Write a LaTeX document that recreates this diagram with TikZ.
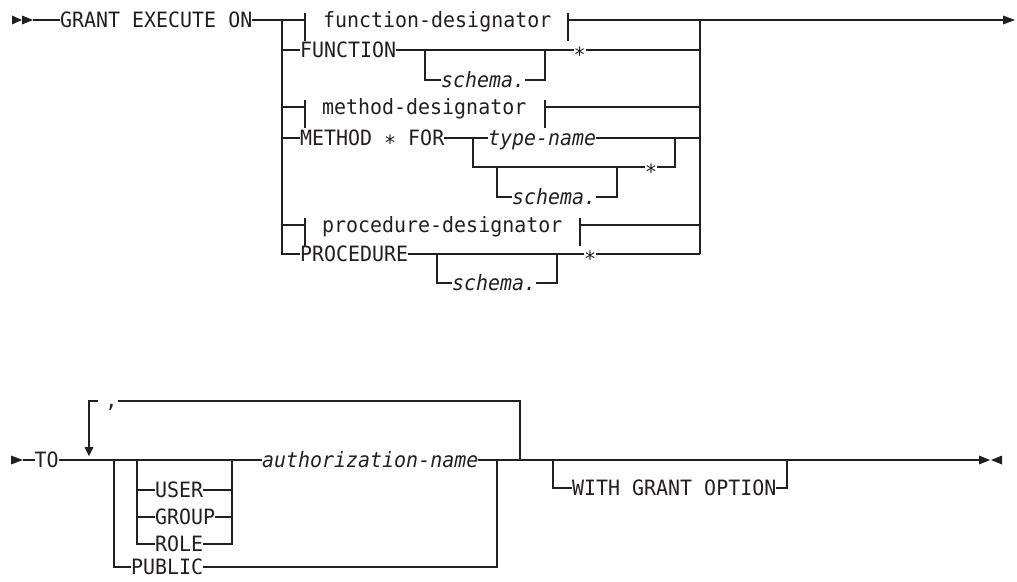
\documentclass[tikz,border=0pt]{standalone}
\usepackage{fontspec}
\newfontfamily\railfont[FakeStretch=0.945,ItalicFont={DejaVu Sans Mono Oblique},ItalicFeatures={FakeStretch=0.945}]{DejaVu Sans Mono}
\definecolor{ink}{RGB}{35,31,32}
\newcommand\lowstar{\raisebox{-0.21em}{*}}
\begin{document}
\begin{tikzpicture}[x=1pt,y=-1pt,
  kw/.style={inner sep=0pt, text height=15.4pt, text depth=0pt, font=\fontsize{21.1}{24}\railfont, text=ink, anchor=west},
  var/.style={kw, font=\fontsize{21.1}{24}\railfont\itshape},
  rail/.style={draw=ink, line width=1.3pt},
  fragtick/.style={draw=ink, line width=1.3pt}
]
\path[fill=white,use as bounding box] (0,0) rectangle (1017,581);

% ---------------- top diagram ----------------
\fill[ink] (12,15.5) -- (22,20) -- (12,24.5) -- cycle;
\fill[ink] (22,15.5) -- (33,20) -- (22,24.5) -- cycle;
\coordinate (s0) at (33,20);
\node[kw] (grant) at (60,20) {GRANT EXECUTE ON};

\coordinate (L1) at (282,20);  \coordinate (R1) at (700,20);
\coordinate (L2) at (282,50);  \coordinate (R2) at (700,50);
\coordinate (L3) at (282,107); \coordinate (R3) at (700,107);
\coordinate (L4) at (282,138); \coordinate (R4) at (700,138);
\coordinate (L5) at (282,225); \coordinate (R5) at (700,225);
\coordinate (L6) at (282,254); \coordinate (R6) at (700,254);
\coordinate (E1) at (1003,20);

% row 1
\coordinate (fdL) at (305,20); \coordinate (fdR) at (568,20);
\node[kw] (fd) at (323,20) {function-designator};
% row 2
\node[kw] (fn) at (300,50) {FUNCTION};
\node[var] (sc2) at (441,80) {schema.};
\coordinate (sc2a) at (425,50); \coordinate (sc2b) at (545,50);
\node[kw] (st2) at (573.5,50) {\lowstar};
% row 3
\coordinate (mdL) at (305,107); \coordinate (mdR) at (545,107);
\node[kw] (md) at (322,107) {method-designator};
% row 4
\node[kw] (mf) at (300,138) {METHOD \lowstar{} FOR};
\coordinate (m4a) at (473,138); \coordinate (m4b) at (675,138);
\node[var] (tn) at (488,138) {type-name};
\node[kw] (st4) at (645,167) {\lowstar};
\coordinate (sc4a) at (497,167); \coordinate (sc4b) at (617,167);
\node[var] (sc4) at (512,197) {schema.};
% row 5
\coordinate (pdL) at (305,225); \coordinate (pdR) at (580,225);
\node[kw] (pd) at (322,225) {procedure-designator};
% row 6
\node[kw] (pr) at (300,254) {PROCEDURE};
\coordinate (sc6a) at (437,254); \coordinate (sc6b) at (557,254);
\node[var] (sc6) at (452,283) {schema.};
\node[kw] (st6) at (584,254) {\lowstar};

% connectors
\draw[rail] (s0) -- (grant.west);
\draw[rail] (grant.east) -- (L1) -- (fdL);
\draw[rail] (fdR) -- (R1) -- (E1);
\fill[ink] (1003,15.5) -- (1015,20) -- (1003,24.5) -- cycle;
\draw[rail] (L1) -- (L6) -- (pr.west);
\draw[rail] (R1) -- (R6);
\foreach \t in {fdL,fdR,mdL,mdR,pdL,pdR}
  \draw[fragtick] ([yshift=7pt]\t) -- ([yshift=-21pt]\t);

\draw[rail] (L2) -- (fn.west);
\draw[rail] (fn.east) -- (st2.west);
\draw[rail] (st2.east) -- (R2);
\draw[rail] (sc2a) |- (sc2.west);
\draw[rail] (sc2.east) -| (sc2b);

\draw[rail] (L3) -- (mdL);
\draw[rail] (mdR) -- (R3);

\draw[rail] (L4) -- (mf.west);
\draw[rail] (mf.east) -- (m4a) -- (tn.west);
\draw[rail] (tn.east) -- (R4);
\draw[rail] (m4a) |- (st4.west);
\draw[rail] (st4.east) -| (m4b);
\draw[rail] (sc4a) |- (sc4.west);
\draw[rail] (sc4.east) -| (sc4b);

\draw[rail] (L5) -- (pdL);
\draw[rail] (pdR) -- (R5);

\draw[rail] (pr.east) -- (st6.west);
\draw[rail] (st6.east) -- (R6);
\draw[rail] (sc6a) |- (sc6.west);
\draw[rail] (sc6.east) -| (sc6b);

% ---------------- bottom diagram ----------------
\fill[ink] (11,455.5) -- (23,460) -- (11,464.5) -- cycle;
\coordinate (s1) at (23,460);
\node[kw] (to) at (34.5,460) {TO};
\coordinate (c1) at (114,460);
\coordinate (c2) at (137,460);
\coordinate (c3) at (232,460);
\node[var] (an) at (262,460) {authorization-name};
\coordinate (c4) at (497,460);
\coordinate (lpR) at (520,460);
\coordinate (lt) at (520,401);
\coordinate (cmR) at (118,401);
\coordinate (cmL) at (98,401);
\coordinate (lt0) at (89,401);
\coordinate (ad) at (89,447);
\node[inner sep=0pt, anchor=base, font=\fontsize{21.1}{24}\railfont, text=ink] (comma) at (111.5,407.5) {,};
\node[kw] (user) at (155,490) {USER};
\node[kw] (group) at (155,517) {GROUP};
\node[kw] (role) at (155,544) {ROLE};
\node[kw] (pub) at (131,567) {PUBLIC};
\coordinate (o1) at (553,460);
\node[kw] (wg) at (572,488) {WITH GRANT OPTION};
\coordinate (o2) at (787,460);
\coordinate (e2) at (979,460);

\draw[rail] (s1) -- (to.west);
\draw[rail] (to.east) -- (c1) -- (c2) -- (c3) -- (an.west);
\draw[rail] (an.east) -- (c4) -- (lpR) -- (o1) -- (o2) -- (e2);
\draw[rail] (lpR) -- (lt) -- (cmR);
\draw[rail] (cmL) -- (lt0) -- (ad);
\fill[ink] (84.5,447) -- (93.5,447) -- (89,456) -- cycle;

\draw[rail] (c2) |- (role.west);
\draw[rail] (c2|-user.west) -- (user.west);
\draw[rail] (c2|-group.west) -- (group.west);
\draw[rail] (user.east) -- (c3|-user.east);
\draw[rail] (group.east) -- (c3|-group.east);
\draw[rail] (role.east) -| (c3);

\draw[rail] (c1) |- (pub.west);
\draw[rail] (pub.east) -| (c4);

\draw[rail] (o1) |- (wg.west);
\draw[rail] (wg.east) -| (o2);

\fill[ink] (979,455.5) -- (990,460) -- (979,464.5) -- cycle;
\fill[ink] (1002,455.5) -- (991,460) -- (1002,464.5) -- cycle;
\end{tikzpicture}
\end{document}
